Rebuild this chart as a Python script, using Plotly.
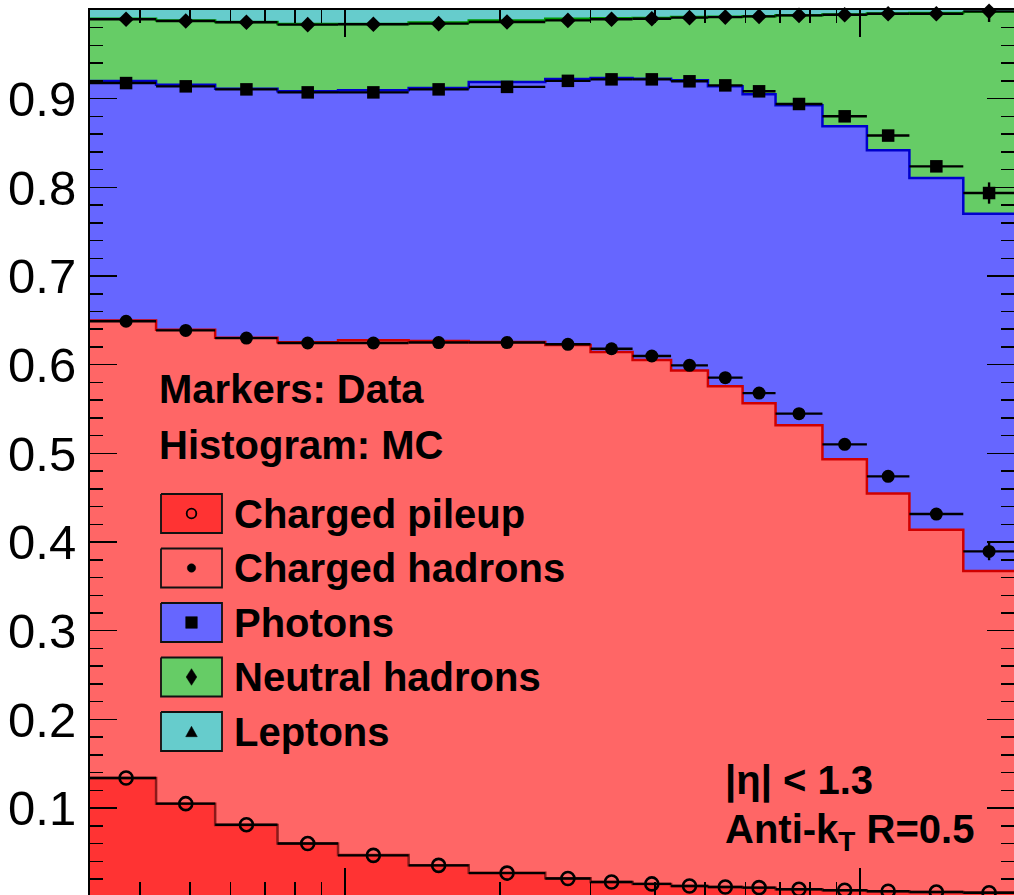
import numpy as np
import plotly.graph_objects as go

# ---------------- data ----------------
bin_edges = [32, 43, 56, 74, 97, 133, 174, 245, 300, 362, 430, 507, 592,
             686, 846, 1032, 1248, 1588, 2000]

# MC stacked histogram: cumulative fraction at the top of each component
mc_top_pileup = [0.134, 0.105, 0.081, 0.060, 0.047, 0.0355, 0.027, 0.021, 0.0168,
                 0.0145, 0.0122, 0.011, 0.0103, 0.0085, 0.0074, 0.0062, 0.0054, 0.0047]
mc_top_chhad = [0.6498, 0.6395, 0.6305, 0.6252, 0.6275, 0.6267, 0.6256, 0.6222, 0.6143,
                0.6053, 0.5936, 0.5756, 0.5564, 0.5316, 0.4933, 0.4549, 0.414, 0.3673]
mc_top_photons = [0.9199, 0.9158, 0.9113, 0.9083, 0.9094, 0.912, 0.9188, 0.9222, 0.9233,
                  0.9225, 0.9207, 0.914, 0.9049, 0.8925, 0.8688, 0.8418, 0.8105, 0.7703]
mc_top_neutral = [0.9902, 0.9883, 0.9865, 0.9842, 0.9842, 0.986, 0.9883, 0.990, 0.9906,
                  0.991, 0.992, 0.9925, 0.993, 0.994, 0.995, 0.996, 0.9965, 0.998]
mc_top_leptons = [1.0, 1.0, 1.0, 1.0, 1.0, 1.0, 1.0, 1.0, 1.0,
                  1.0, 1.0, 1.0, 1.0, 1.0, 1.0, 1.0, 1.0, 1.0]

# Data markers: mean pT of each bin and cumulative fraction
data_pt = [37.6, 49.1, 64.4, 84.7, 113.6, 152.1, 206.5, 271.1, 329.5,
           394.5, 466.9, 547.9, 637.3, 761.8, 934.4, 1134.9, 1407.8, 1782.1]
data_pileup = [0.134, 0.105, 0.0813, 0.060, 0.0467, 0.0354, 0.0267, 0.0206, 0.0166,
               0.0145, 0.0121, 0.011, 0.0103, 0.0084, 0.0073, 0.0062, 0.0053, 0.0046]
data_chhad = [0.649, 0.6387, 0.630, 0.6245, 0.6245, 0.625, 0.625, 0.623, 0.618,
              0.6098, 0.5993, 0.5854, 0.568, 0.5448, 0.5102, 0.4741, 0.4316, 0.3895]
data_photons = [0.9176, 0.9139, 0.9105, 0.9071, 0.9071, 0.9105, 0.9133, 0.9201, 0.9218,
                0.9218, 0.9196, 0.915, 0.9083, 0.894, 0.8801, 0.8584, 0.8237, 0.7936]
data_neutral = [0.9895, 0.9876, 0.9862, 0.9835, 0.984, 0.9846, 0.9865, 0.9883, 0.9895,
                0.9902, 0.9914, 0.992, 0.9928, 0.9939, 0.9947, 0.9958, 0.9958, 0.9985]

err_pileup = [0.0005] * 18
err_chhad = [0.001, 0.001, 0.001, 0.001, 0.001, 0.001, 0.001, 0.001, 0.001,
             0.001, 0.001, 0.0015, 0.002, 0.002, 0.003, 0.003, 0.005, 0.010]
err_photons = [0.001, 0.001, 0.001, 0.001, 0.001, 0.001, 0.001, 0.001, 0.001,
               0.001, 0.001, 0.0015, 0.002, 0.002, 0.003, 0.004, 0.006, 0.012]
err_neutral = [0.001, 0.001, 0.001, 0.001, 0.001, 0.001, 0.001, 0.001, 0.001,
               0.001, 0.001, 0.0015, 0.002, 0.002, 0.003, 0.004, 0.006, 0.012]

y_tick_vals = [0.1, 0.2, 0.3, 0.4, 0.5, 0.6, 0.7, 0.8, 0.9]
y_tick_text = ["0.1", "0.2", "0.3", "0.4", "0.5", "0.6", "0.7", "0.8", "0.9"]
x_minor_vals = [40, 50, 60, 70, 80, 90, 200, 300, 400, 500, 600, 700, 800, 900]
x_major_vals = [100, 1000]

legend_labels = ["Charged pileup", "Charged hadrons", "Photons", "Neutral hadrons", "Leptons"]

# ---------------- styles ----------------
fill_cols = ["#FF3333", "#FF6666", "#6666FF", "#66CC66", "#66CCCC"]
line_cols = ["#8B1A1A", "#D00000", "#0000CC", "#009900", "#66CCCC"]
FONT = "Liberation Sans, Arial, sans-serif"

W, H = 1014, 895
L, R, T, B = 90, 1014, 10, 895

def px(x):
    return (x - L) / (R - L)

def py(y):
    return (B - y) / (B - T)

edges = np.array(bin_edges, dtype=float)
centers = np.array(data_pt, dtype=float)
ex_plus = edges[1:] - centers
ex_minus = centers - edges[:-1]

fig = go.Figure()

mc_tops = [mc_top_pileup, mc_top_chhad, mc_top_photons, mc_top_neutral, mc_top_leptons]
for i, top in enumerate(mc_tops):
    yv = list(top) + [top[-1]]
    fig.add_trace(go.Scatter(
        x=edges, y=yv, mode="lines", line=dict(shape="hv", color=line_cols[i], width=2.5),
        fill="tozeroy" if i == 0 else "tonexty", fillcolor=fill_cols[i],
        showlegend=False, hoverinfo="skip"))

data_sets = [
    (data_pileup, err_pileup, dict(symbol="circle-open", size=13, color="black", line=dict(width=2.6, color="black"))),
    (data_chhad, err_chhad, dict(symbol="circle", size=13, color="black")),
    (data_photons, err_photons, dict(symbol="square", size=12.5, color="black")),
    (data_neutral, err_neutral, dict(symbol="diamond", size=12, color="black")),
]
for vals, errs, mk in data_sets:
    fig.add_trace(go.Scatter(
        x=centers, y=vals, mode="markers", marker=mk, cliponaxis=False,
        error_x=dict(type="data", symmetric=False, array=ex_plus, arrayminus=ex_minus,
                     color="black", thickness=2.4, width=0),
        error_y=dict(type="data", array=errs, color="black", thickness=2.4, width=0),
        showlegend=False, hoverinfo="skip"))

# ---------------- legend (drawn by hand, pixel overlay axes + shapes) ----------------
row_y = [513.5, 568, 622.5, 677, 731.5]
bx0, bx1, bh = 161, 222, 39
for i, yc in enumerate(row_y):
    fig.add_trace(go.Scatter(
        x=[bx0, bx1, bx1, bx0, bx0], y=[yc - bh / 2, yc - bh / 2, yc + bh / 2, yc + bh / 2, yc - bh / 2],
        xaxis="x2", yaxis="y2", mode="lines", fill="toself", fillcolor=fill_cols[i],
        line=dict(color="#111111", width=1.8), showlegend=False, hoverinfo="skip"))

gx = 191.5
shapes = []
# open circle
r = 4.8
shapes.append(dict(type="circle", xref="paper", yref="paper", x0=px(gx - r), x1=px(gx + r),
                   y0=py(row_y[0] + r), y1=py(row_y[0] - r), line=dict(color="black", width=1.8),
                   fillcolor="rgba(0,0,0,0)", layer="above"))
# filled circle
r = 4.2
shapes.append(dict(type="circle", xref="paper", yref="paper", x0=px(gx - r), x1=px(gx + r),
                   y0=py(row_y[1] + r), y1=py(row_y[1] - r), line=dict(color="black", width=0.5),
                   fillcolor="black", layer="above"))
# square
s = 5.8
shapes.append(dict(type="rect", xref="paper", yref="paper", x0=px(gx - s), x1=px(gx + s),
                   y0=py(row_y[2] + s), y1=py(row_y[2] - s), line=dict(color="black", width=0.5),
                   fillcolor="black", layer="above"))
# diamond
dw, dh = 5.3, 8.3
yc = row_y[3]
path = "M %f %f L %f %f L %f %f L %f %f Z" % (px(gx), py(yc - dh), px(gx + dw), py(yc),
                                           px(gx), py(yc + dh), px(gx - dw), py(yc))
shapes.append(dict(type="path", xref="paper", yref="paper", path=path,
                   line=dict(color="black", width=0.5), fillcolor="black", layer="above"))
# triangle
tw, th = 5.8, 5.2
yc = row_y[4]
path = "M %f %f L %f %f L %f %f Z" % (px(gx), py(yc - th), px(gx + tw), py(yc + th),
                                   px(gx - tw), py(yc + th))
shapes.append(dict(type="path", xref="paper", yref="paper", path=path,
                   line=dict(color="black", width=0.5), fillcolor="black", layer="above"))

annots = []
font_b = dict(family=FONT, size=40, color="black")
for lab, yc in zip(legend_labels, row_y):
    annots.append(dict(text="<b>%s</b>" % lab, x=px(232), y=py(yc), xref="paper", yref="paper",
                       xanchor="left", yanchor="middle", showarrow=False, font=font_b))
annots.append(dict(text="<b>Markers: Data</b>", x=px(157), y=py(389), xref="paper", yref="paper",
                   xanchor="left", yanchor="middle", showarrow=False, font=font_b))
annots.append(dict(text="<b>Histogram: MC</b>", x=px(157), y=py(445), xref="paper", yref="paper",
                   xanchor="left", yanchor="middle", showarrow=False, font=font_b))
annots.append(dict(text="<b>|η| < 1.3</b>", x=px(723), y=py(780), xref="paper", yref="paper",
                   xanchor="left", yanchor="middle", showarrow=False, font=font_b))
annots.append(dict(text="<b>Anti-k<sub>T</sub> R=0.5</b>", x=px(723), y=py(832), xref="paper", yref="paper",
                   xanchor="left", yanchor="middle", showarrow=False, font=font_b))

fig.update_layout(
    width=W, height=H, template="none",
    margin=dict(l=L, r=W - R, t=T, b=H - B, pad=0),
    paper_bgcolor="white", plot_bgcolor="white",
    showlegend=False, annotations=annots, shapes=shapes,
    font=dict(family=FONT, color="black"),
    xaxis=dict(type="log", range=[np.log10(32), np.log10(32) + 924 / 515.0],
               showgrid=False, zeroline=False, showline=True, linecolor="black", linewidth=2,
               mirror="ticks", ticks="inside", ticklen=27, tickwidth=1.5, tickcolor="black",
               tickmode="array", tickvals=x_major_vals, showticklabels=False,
               minor=dict(tickmode="array", tickvals=x_minor_vals, ticks="inside", ticklen=13,
                          tickwidth=1.5, tickcolor="black", showgrid=False),
               automargin=False),
    yaxis=dict(range=[0.002, 1.0], showgrid=False, zeroline=False, showline=True,
               linecolor="black", linewidth=2, mirror="ticks", ticks="inside", ticklen=27,
               tickwidth=1.5, tickcolor="black", tickmode="array", tickvals=y_tick_vals,
               ticktext=y_tick_text, tickfont=dict(size=49, color="black", family=FONT),
               ticklabelstandoff=2,
               minor=dict(dtick=0.02, tick0=0, ticks="inside", ticklen=13, tickwidth=1.5,
                          tickcolor="black", showgrid=False),
               automargin=False),
    xaxis2=dict(overlaying="x", range=[L, R], visible=False, fixedrange=True),
    yaxis2=dict(overlaying="y", range=[B, T], visible=False, fixedrange=True),
)

fig.write_html("out.html", config={"displayModeBar": False, "staticPlot": True},
               post_script="document.body.style.margin='0px';document.body.style.overflow='hidden';")
